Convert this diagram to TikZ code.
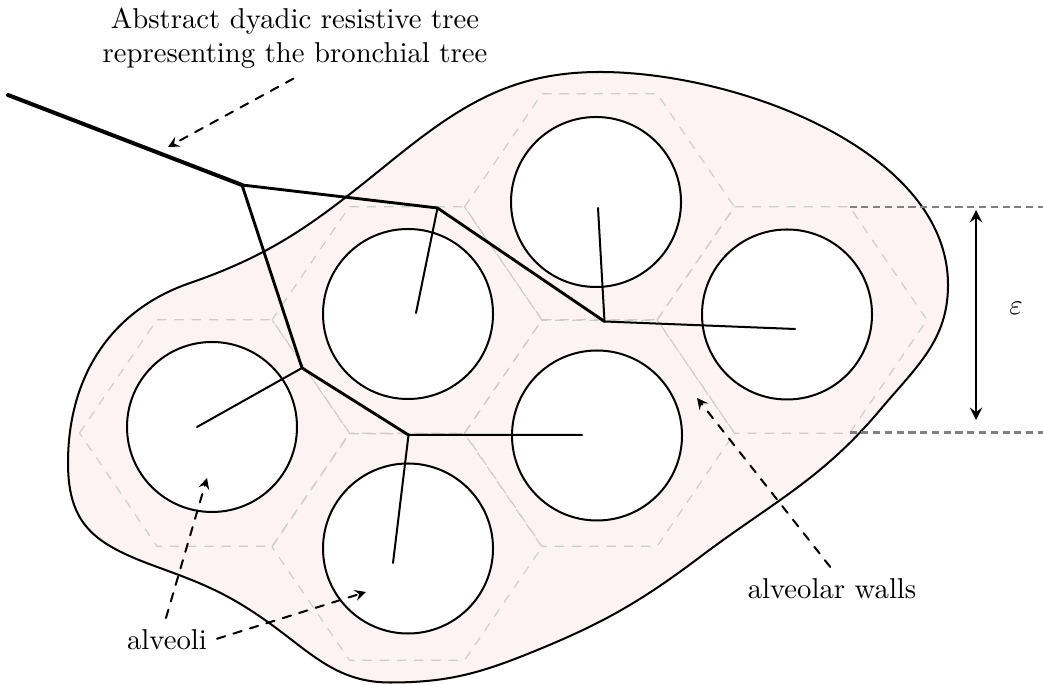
\documentclass[tikz,border=0pt]{standalone}
\usetikzlibrary{arrows}
\definecolor{tissue}{RGB}{254,243,243}
\begin{document}
\begin{tikzpicture}[scale=0.12245, line join=round, line cap=round, >=stealth,
	wall/.style={gray!40, dashed, line width=0.4pt},
	alv/.style={draw=black, fill=white, line width=0.7pt},
	note/.style={->, dashed, line width=0.7pt},
	gen0/.style={line width=1.4pt},
	gen1/.style={line width=1pt},
	leaf/.style={line width=0.7pt}]
	\useasboundingbox (0,0) rectangle (104.3,68.4);
	% tissue
	\draw[fill=tissue, line width=0.7pt] (60.0,61.2) to[out=0,in=90,looseness=0.85] (94.8,39.9) to[out=-90,in=50] (88.0,27.4)
		to[out=-130,in=37] (70.0,12.7) to[out=-143,in=22] (53.0,3.1) to[out=-158,in=0] (39.0,0.15)
		to[out=180,in=-35] (26.5,6.4) to[out=145,in=-20] (16.0,11.6) to[out=160,in=-90,looseness=1.2] (6.8,22.1)
		to[out=90,in=-161] (19.0,40.1) to[out=19,in=-141] (39.0,52.2) to[out=39,in=180] (60.0,61.2) -- cycle;
	% alveolar walls
	\foreach \x/\y in {21.45/25.1, 40.7/36.4, 40.7/13.7, 59.95/47.7, 59.95/25.1, 79.2/36.4}
		\draw[wall] (\x,\y) ++(-13.5,0) -- ++(7.75,11.33) -- ++(11.5,0) -- ++(7.75,-11.33) -- ++(-7.75,-11.33) -- ++(-11.5,0) -- cycle;
	% alveoli
	\coordinate (c1) at (21.2,25.7);
	\coordinate (c2) at (40.8,37.0);
	\coordinate (c3) at (40.8,13.55);
	\coordinate (c4) at (59.6,48.2);
	\coordinate (c5) at (59.7,24.85);
	\coordinate (c6) at (78.7,36.95);
	\foreach \c in {c1,c2,c3,c4,c5,c6} \draw[alv] (\c) circle (8.5);
	% bronchial tree
	\coordinate (root) at (0.8,58.9);
	\coordinate (n1) at (24.2,49.9);
	\coordinate (n2) at (43.75,47.6);
	\coordinate (n3) at (30.2,31.6);
	\coordinate (n4) at (60.45,36.25);
	\coordinate (n5) at (40.85,24.9);
	\coordinate (l1) at (41.6,37.1);
	\coordinate (l2) at (19.7,25.7);
	\coordinate (l3) at (59.8,47.6);
	\coordinate (l4) at (79.5,35.5);
	\coordinate (l5) at (58.2,24.9);
	\coordinate (l6) at (39.3,12.1);
	\draw[gen0] (root)--(n1);
	\draw[gen1] (n1)--(n2) (n1)--(n3) (n2)--(n4) (n3)--(n5);
	\draw[leaf] (n2)--(l1) (n3)--(l2) (n4)--(l3) (n4)--(l4) (n5)--(l5) (n5)--(l6);
	% epsilon
	\coordinate (wt) at (84.95,47.7);\coordinate (wt') at (104.3,47.7);
	\coordinate (wb) at (84.95,25.13);\coordinate (wb') at (104.3,25.13);
	\draw[gray, line width=0.9pt, line cap=butt, dash pattern=on 2.5pt off 1.6pt] (wt)--(wt') (wb)--(wb');
	\coordinate (et) at (97.6,47.4);\coordinate (eb) at (97.6,26.4);
	\draw[<->, line width=0.9pt] (et)--(eb);
	\node (eps) at (101.6,37.6) {$\varepsilon$};
	% labels
	\node[align=center] (bronchi) at (29.5,64.6) {Abstract dyadic resistive tree\\representing the bronchial tree};
	\node (alveoli) at (16.7,4.4) {alveoli};
	\node (walls) at (83.2,9.5) {alveolar walls};
	\coordinate (pbronchi) at (16.8,53.7);
	\coordinate (palv1) at (20.7,20.6);
	\coordinate (palv2) at (36.6,9.2);
	\coordinate (pwall) at (69.7,28.6);
	\draw[note] ([xshift=-4.5pt]bronchi.south)--(pbronchi);
	\draw[note] ([xshift=-3pt,yshift=5pt]alveoli.north)--(palv1);
	\draw[note] ([yshift=3.5pt]alveoli.east)--(palv2);
	\draw[note] ([xshift=-5pt,yshift=5pt]walls.north)--(pwall);
\end{tikzpicture}
\end{document}
